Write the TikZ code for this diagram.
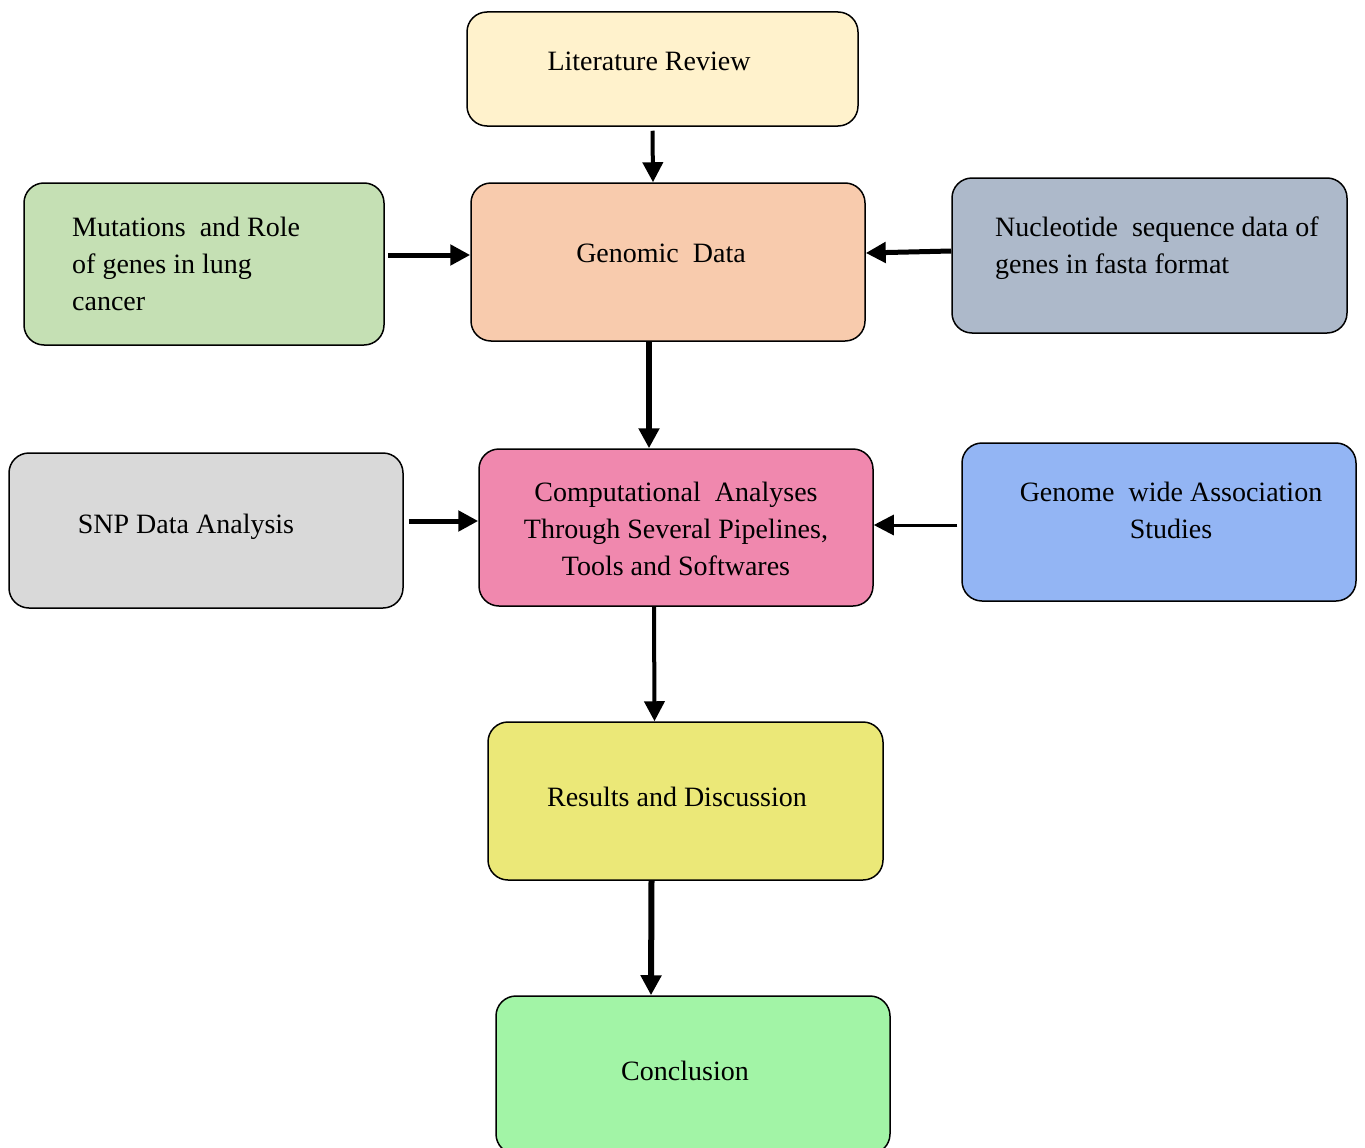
\documentclass[tikz,border=0pt]{standalone}
\usepackage{fontspec}
\setmainfont{Liberation Serif}
\usetikzlibrary{arrows.meta}
\definecolor{cLit}{HTML}{FFF2CC}
\definecolor{cGen}{HTML}{F8CBAD}
\definecolor{cMut}{HTML}{C5E0B4}
\definecolor{cNuc}{HTML}{ADB9CA}
\definecolor{cSnp}{HTML}{D9D9D9}
\definecolor{cComp}{HTML}{F088AE}
\definecolor{cGwas}{HTML}{93B5F4}
\definecolor{cRes}{HTML}{EBE878}
\definecolor{cCon}{HTML}{A2F4A6}
\tikzset{
  box/.style={draw=black, line width=1.5pt, rounded corners=20pt, inner sep=0pt},
  txt/.style={font=\fontsize{28}{37}\selectfont},
  conn/.style={-{Triangle[length=20pt,width=20pt]}, line width=#1},
  conn/.default=5pt
}
\begin{document}
\begin{tikzpicture}[x=1pt,y=-1pt]
\useasboundingbox (0,0) rectangle (1365,1148);
\node[box, fill=cLit, minimum width=391pt, minimum height=114pt] (lit) at (662.5,69) {};
\node[txt] (litT) at (649,61) {Literature Review};
\node[box, fill=cGen, minimum width=394pt, minimum height=158pt] (gen) at (668,262) {};
\node[txt] (genT) at (661,253) {Genomic\ \ Data};
\node[box, fill=cMut, minimum width=360pt, minimum height=162pt] (mut) at (204,264) {};
\node[txt, anchor=north west, align=left, inner sep=0pt] (mutT) at (72,217) {Mutations\ \ and Role\\of genes in lung\\cancer};
\node[box, fill=cNuc, minimum width=395pt, minimum height=155pt] (nuc) at (1149.5,255.5) {};
\node[txt, anchor=north west, align=left, inner sep=0pt] (nucT) at (995,217) {Nucleotide\ \ sequence data of\\genes in fasta format};
\node[box, fill=cSnp, minimum width=394pt, minimum height=155pt] (snp) at (206,530.5) {};
\node[txt] (snpT) at (186,527) {SNP Data Analysis};
\node[box, fill=cComp, minimum width=394pt, minimum height=157pt] (comp) at (676,527.5) {};
\node[txt, align=center] (compT) at (676,529) {Computational\ \ Analyses\\Through\ Several Pipelines,\\Tools\ and Softwares};
\node[box, fill=cGwas, minimum width=394pt, minimum height=158pt] (gwas) at (1159,522) {};
\node[txt, align=center] (gwasT) at (1171,510) {Genome\ \ wide Association\\Studies};
\node[box, fill=cRes, minimum width=395pt, minimum height=158pt] (res) at (685.5,801) {};
\node[txt] (resT) at (677,797) {Results and Discussion};
\node[box, fill=cCon, minimum width=394pt, minimum height=158pt] (con) at (693,1075) {};
\node[txt] (conT) at (685,1071) {Conclusion};
% connectors
\draw[conn=4pt] ([xshift=-10pt,yshift=-4pt]lit.south) -- ([xshift=-15pt]gen.north);
\draw[conn=5pt] ([xshift=3pt,yshift=9pt]mut.east) -- ([yshift=7pt]gen.west);
\draw[conn=5pt] ([yshift=4.5pt]nuc.west) -- ([yshift=9pt]gen.east);
\draw[conn=6pt] ([xshift=-19pt]gen.south) -- ([xshift=-27pt]comp.north);
\draw[conn=5pt] ([xshift=5pt,yshift=9.5pt]snp.east) -- ([yshift=6.5pt]comp.west);
\draw[conn=3pt] ([xshift=-4pt,yshift=-3pt]gwas.west) -- ([yshift=2.5pt]comp.east);
\draw[conn=4pt] ([xshift=-22pt]comp.south) -- ([xshift=-31pt]res.north);
\draw[conn=6pt] ([xshift=-34pt]res.south) -- ([xshift=-42pt]con.north);
\end{tikzpicture}
\end{document}
